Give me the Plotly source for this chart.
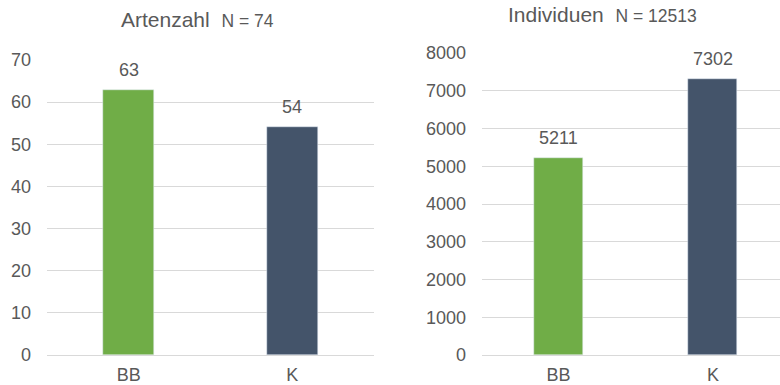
import plotly.graph_objects as go

# Category labels and values for the two panels
categories = ["BB", "K"]
artenzahl = [63, 54]
individuen = [5211, 7302]
bar_colors = ["#70AD47", "#44546A"]

title_left = "Artenzahl"
n_left = "N = 74"
title_right = "Individuen"
n_right = "N = 12513"

text_color = "#595959"
grid_color = "#D9D9D9"
font_family = "Liberation Sans, Arial, sans-serif"

W, H = 780, 385

fig = go.Figure()

fig.add_trace(go.Bar(
    x=categories, y=artenzahl, marker_color=bar_colors, width=0.31,
    xaxis="x", yaxis="y", hoverinfo="skip", showlegend=False,
))
fig.add_trace(go.Bar(
    x=categories, y=individuen, marker_color=bar_colors, width=0.317,
    xaxis="x2", yaxis="y2", hoverinfo="skip", showlegend=False,
))

# Value labels above each bar
annotations = []
for cat, val in zip(categories, artenzahl):
    annotations.append(dict(x=cat, y=val, xref="x", yref="y", text=str(val),
                            showarrow=False, yanchor="bottom", yshift=8,
                            font=dict(size=18, color=text_color, family=font_family)))
for cat, val in zip(categories, individuen):
    annotations.append(dict(x=cat, y=val, xref="x2", yref="y2", text=str(val),
                            showarrow=False, yanchor="bottom", yshift=8,
                            font=dict(size=18, color=text_color, family=font_family)))

# Panel titles
annotations.append(dict(
    x=197 / W, y=1 - 33 / H, xref="paper", yref="paper", xanchor="center", yanchor="bottom",
    text=f"{title_left}&nbsp;&nbsp;<span style='font-size:17.5px'>{n_left}</span>",
    showarrow=False, font=dict(size=21, color=text_color, family=font_family)))
annotations.append(dict(
    x=602 / W, y=1 - 28 / H, xref="paper", yref="paper", xanchor="center", yanchor="bottom",
    text=f"{title_right}&nbsp;&nbsp;<span style='font-size:17.5px'>{n_right}</span>",
    showarrow=False, font=dict(size=21, color=text_color, family=font_family)))

axis_font = dict(size=18, color=text_color, family=font_family)
y_bottom = 1 - 355 / H

fig.update_layout(
    width=W, height=H,
    margin=dict(l=0, r=0, t=0, b=0, autoexpand=False),
    paper_bgcolor="white", plot_bgcolor="white",
    bargap=0,
    annotations=annotations,
    xaxis=dict(domain=[47 / W, 374 / W], range=[-0.5, 1.5], showgrid=False, automargin=False,
               tickfont=axis_font, showline=False, ticks="", ticklabelstandoff=7),
    yaxis=dict(domain=[y_bottom, 1 - 60 / H], range=[0, 70], dtick=10, automargin=False,
               showgrid=True, gridcolor=grid_color, gridwidth=1,
               zeroline=True, zerolinecolor=grid_color, zerolinewidth=1,
               tickfont=axis_font, ticklabelstandoff=15),
    xaxis2=dict(domain=[482 / W, 1], range=[-0.495, 1.434], anchor="y2", showgrid=False,
                automargin=False,
                tickfont=axis_font, showline=False, ticks="", ticklabelstandoff=7),
    yaxis2=dict(domain=[y_bottom, 1 - 53 / H], range=[0, 8000], dtick=1000, anchor="x2",
                automargin=False,
                showgrid=True, gridcolor=grid_color, gridwidth=1,
                zeroline=True, zerolinecolor=grid_color, zerolinewidth=1,
                tickfont=axis_font, ticklabelstandoff=15),
)

fig.write_html("out.html")
